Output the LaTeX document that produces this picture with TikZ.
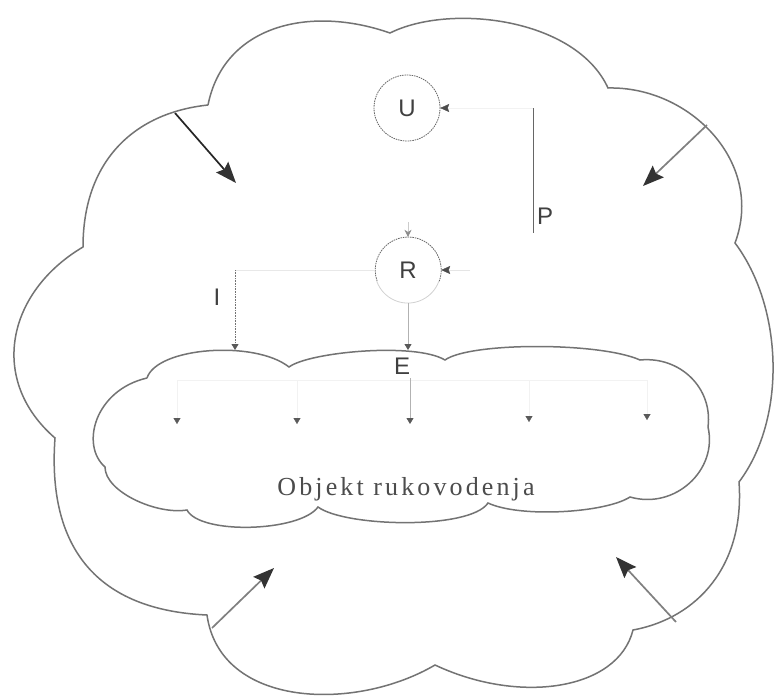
\documentclass[tikz,border=0pt]{standalone}
\usepackage{fontspec}
\setmainfont{Liberation Serif}
\setsansfont{Liberation Sans}
\newfontfamily\objfont[LetterSpace=12]{Liberation Serif}
\usetikzlibrary{arrows.meta}
\begin{document}
\begin{tikzpicture}[x=1pt,y=-1pt,
  cloudline/.style={draw=black!55, line width=1.5pt},
  bigarrow/.style={line width=1.7pt, -{Stealth[length=21pt,width=16pt,inset=3pt,color=black!80]}},
  smalltip/.style={-{Stealth[length=9pt,width=8pt,inset=1.5pt,color=black!70]}},
  tri/.style={-{Triangle[length=6pt,width=7pt,color=black!65]}},
  faint/.style={draw=black!5, line width=0.3pt},
  midline/.style={draw=black!30, line width=0.8pt},
  pline/.style={draw=black!60, line width=0.8pt},
  dashcirc/.style={draw=black!60, line width=0.8pt, dash pattern=on 1.5pt off 0.9pt},
  circ/.style={circle, minimum size=66pt, inner sep=0pt, font=\sffamily\fontsize{24}{24}\selectfont, text=black!75},
  lab/.style={inner sep=0pt, font=\sffamily\fontsize{24}{24}\selectfont, text=black!75},
  objtext/.style={inner sep=0pt, font=\objfont\fontsize{26}{26}\selectfont, text=black!70}
]
\useasboundingbox (0,0) rectangle (774,696);
\fill[white] (0,0) rectangle (774,696);

% outer cloud cusps
\coordinate (A) at (208,105);
\coordinate (B) at (390,33);
\coordinate (C) at (608,88);
\coordinate (D) at (735,243);
\coordinate (E) at (739,482);
\coordinate (F) at (633,630);
\coordinate (G) at (435,665);
\coordinate (H) at (207,615);
\coordinate (I) at (55,438);
\coordinate (J) at (83,247);
\draw[cloudline] (A) .. controls (224,25) and (310,5) .. (B)
  .. controls (450,3) and (576,18) .. (C)
  .. controls (690,86) and (765,163) .. (D)
  .. controls (783,307) and (787,418) .. (E)
  .. controls (745,565) and (698,618) .. (F)
  .. controls (618,690) and (520,705) .. (G)
  .. controls (355,712) and (220,708) .. (H)
  .. controls (97,610) and (47,548) .. (I)
  .. controls (-12,380) and (7,292) .. (J)
  .. controls (83,162) and (133,113) .. (A);

% inner cloud cusps
\coordinate (P1) at (147,378);
\coordinate (P2) at (289,367);
\coordinate (P3) at (445,360);
\coordinate (P4) at (640,360);
\coordinate (P5) at (708,427);
\coordinate (P6) at (630,497);
\coordinate (P7) at (488,503);
\coordinate (P8) at (318,507);
\coordinate (P9) at (187,510);
\coordinate (P10) at (105,467);
\draw[cloudline] (P1) .. controls (157,347) and (255,340) .. (P2)
  .. controls (309,352) and (415,342) .. (P3)
  .. controls (470,342) and (600,342) .. (P4)
  .. controls (680,356) and (713,388) .. (P5)
  .. controls (718,470) and (675,510) .. (P6)
  .. controls (605,513) and (520,518) .. (P7)
  .. controls (470,530) and (345,527) .. (P8)
  .. controls (300,532) and (200,535) .. (P9)
  .. controls (157,515) and (105,492) .. (P10)
  .. controls (80,445) and (95,390) .. (P1);

% big arrows
\coordinate (a1s) at (175,113); \coordinate (a1e) at (236,183);
\coordinate (a2s) at (707,125); \coordinate (a2e) at (643,186);
\coordinate (a3s) at (212,628); \coordinate (a3e) at (274,568);
\coordinate (a4s) at (676,622); \coordinate (a4e) at (616,557);
\draw[bigarrow, draw=black!85] (a1s) -- (a1e);
\draw[bigarrow, draw=black!50] (a2s) -- (a2e);
\draw[bigarrow, draw=black!50] (a3s) -- (a3e);
\draw[bigarrow, draw=black!50] (a4s) -- (a4e);

% U and R
\node[circ] (U) at (407,108) {U};
\draw[dashcirc] (U.center) circle[radius=33pt];
\node[circ] (R) at (408,270) {R};
\draw[dashcirc] (R.-20) arc[start angle=-20, end angle=200, radius=33pt];
\draw[draw=black!18, line width=0.8pt] (R.200) arc[start angle=200, end angle=340, radius=33pt];

% P line
\coordinate (Pt) at (533,108);
\coordinate (Pb) at (533,233);
\draw[pline] (Pt) -- (Pb);
\node[lab] (Plab) at (545,216) {P};
\draw[faint, smalltip] (Pt) -- (U.east);
\coordinate (rin) at (470,270);
\draw[faint, draw=black!10, smalltip] (rin) -- (R.east);
\coordinate (rt) at (408,222);
\draw[draw=black!20, line width=0.6pt, -{Stealth[length=7pt,width=7pt,color=black!45]}] (rt) -- (R.north);

% E
\coordinate (Etip) at (408,350);
\draw[midline, tri] (R.south) -- (Etip);
\node[lab] (Elab) at (402,366) {E};

% I
\coordinate (Ic) at (235,270);
\coordinate (Itip) at (235,350);
\draw[faint, draw=black!9, line width=0.5pt] (R.west) -- (Ic);
\draw[draw=black!55, line width=0.8pt, dash pattern=on 1pt off 0.6pt, tri] (Ic) -- (Itip);
\node[lab] (Ilab) at (217,297) {I};

% inner distribution arrows
\coordinate (h1) at (177,380); \coordinate (t1) at (177,424);
\coordinate (h2) at (297,380); \coordinate (t2) at (297,424);
\coordinate (h3) at (410,378); \coordinate (t3) at (410,424);
\coordinate (h4) at (529,380); \coordinate (t4) at (529,422);
\coordinate (h5) at (647,380); \coordinate (t5) at (647,420);
\draw[faint] (h1) -- (h5);
\draw[faint, tri] (h1) -- (t1);
\draw[faint, tri] (h2) -- (t2);
\draw[midline, tri] (h3) -- (t3);
\draw[faint, tri] (h4) -- (t4);
\draw[faint, tri] (h5) -- (t5);

\node[objtext, anchor=base] (obj) at (406,495) {Objekt rukovodenja};
\end{tikzpicture}
\end{document}
